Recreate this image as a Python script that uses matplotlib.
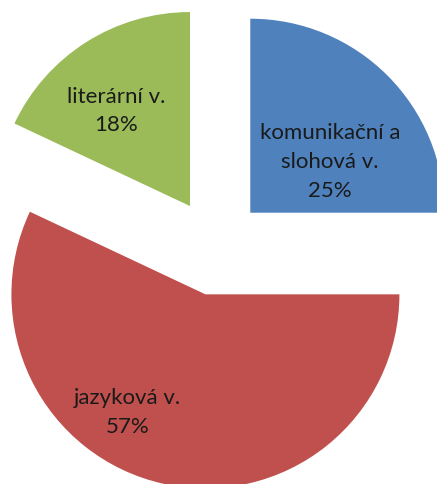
import matplotlib
matplotlib.use('Agg')
import matplotlib.pyplot as plt

# ------------------
# DATA
# ------------------
names = ['komunikační a\nslohová v.', 'jazyková v.', 'literární v.']
shares = [25, 57, 18]
colors = ['#4F81BD', '#C0504D', '#9BBB59']

plt.rcParams['font.family'] = ['Lato', 'DejaVu Sans']

# canvas in pixel units, y up
W, H = 437, 484
radius = 194
center = (216, 237)
explode = [0.25 * radius] * len(shares)

# label anchor relative to each wedge corner, in units of radius
label_pos = [(0.41, 0.26), (-0.40, -0.61), (-0.38, 0.49)]

fig = plt.figure(figsize=(W / 100, H / 100), dpi=100)
ax = fig.add_axes([0, 0, 1, 1])

wedges, _ = ax.pie(
    shares,
    colors=colors,
    startangle=90,
    counterclock=False,
    radius=radius,
    center=center,
    explode=explode,
    frame=False,
    wedgeprops=dict(linewidth=0),
)

for w, name, share, (dx, dy) in zip(wedges, names, shares, label_pos):
    cx, cy = w.center
    ax.text(cx + dx * radius, cy + dy * radius, f'{name}\n{share}%',
            ha='center', va='center', fontsize=16, color='#1a1a1a',
            linespacing=1.55)

ax.set_xlim(0, W)
ax.set_ylim(0, H)
ax.set_aspect('equal')
ax.axis('off')

fig.savefig('out.png', dpi=100)
